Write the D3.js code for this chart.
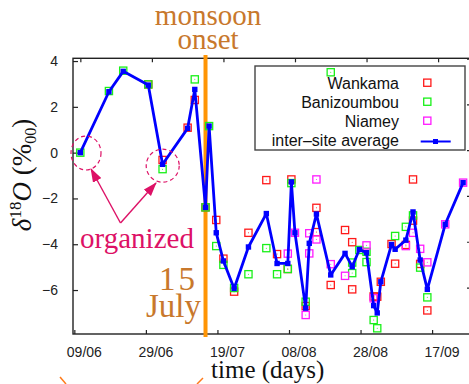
<!DOCTYPE html>
<html>
<head>
<meta charset="utf-8">
<script src="https://cdn.jsdelivr.net/npm/d3@7"></script>
<style>
  body { margin: 0; background: #fff; }
  text { font-family: "Liberation Sans", Arial, sans-serif; }
  .serif { font-family: "Liberation Serif", "Times New Roman", serif; }
</style>
</head>
<body>
<script>
// delta 18O per sampling day (dd/mm, 2006)
const average = [
  ['10/06', 0.00], ['18/06', 2.66], ['22/06', 3.55], ['29/06', 2.95], ['03/07', -0.51],
  ['10/07', 1.06], ['12/07', 2.76], ['15/07', -2.39], ['16/07', 1.16], ['18/07', -3.50],
  ['20/07', -4.73], ['23/07', -5.93], ['27/07', -4.12], ['01/08', -2.66], ['04/08', -4.84],
  ['07/08', -4.84], ['08/08', -1.28], ['09/08', -3.50], ['12/08', -6.79], ['13/08', -3.96],
  ['15/08', -2.68], ['19/08', -5.34], ['23/08', -4.40], ['25/08', -4.98], ['27/08', -4.23],
  ['29/08', -4.37], ['31/08', -6.68], ['01/09', -7.00], ['02/09', -5.64], ['05/09', -4.01],
  ['06/09', -4.22], ['09/09', -3.82], ['11/09', -2.59], ['13/09', -4.69], ['15/09', -5.97],
  ['20/09', -3.13], ['25/09', -1.31]
];

const wankama = [
  ['29/06', 2.98], ['03/07', -0.32], ['10/07', 1.09], ['12/07', 2.30], ['15/07', -2.39],
  ['18/07', -2.94], ['20/07', -4.63], ['23/07', -6.07], ['27/07', -3.50], ['01/08', -1.20],
  ['04/08', -4.43], ['07/08', -5.08], ['08/08', -1.17], ['12/08', -6.70], ['15/08', -2.41],
  ['15/08', -3.47], ['19/08', -5.78], ['23/08', -3.38], ['25/08', -3.91], ['25/08', -5.97],
  ['31/08', -6.28], ['01/09', -6.29], ['02/09', -5.64], ['05/09', -3.99], ['06/09', -4.85],
  ['09/09', -4.03], ['11/09', -1.17], ['11/09', -2.97], ['13/09', -4.86], ['15/09', -6.89]
];

const banizoumbou = [
  ['10/06', 0.00], ['18/06', 2.69], ['22/06', 3.58], ['29/06', 2.98], ['03/07', -0.72],
  ['12/07', 3.20], ['15/07', -2.39], ['16/07', 1.16], ['18/07', -4.08], ['20/07', -4.90],
  ['23/07', -5.91], ['27/07', -5.31], ['01/08', -4.17], ['04/08', -5.31], ['07/08', -5.08],
  ['08/08', -1.33], ['12/08', -6.51], ['19/08', 3.51], ['25/08', -4.80], ['25/08', -5.26],
  ['27/08', -4.25], ['29/08', -4.33], ['29/08', -4.78], ['31/08', -7.31], ['01/09', -7.67],
  ['06/09', -3.64], ['09/09', -3.24], ['11/09', -2.74], ['13/09', -5.02], ['15/09', -6.32]
];

const niamey = [
  ['07/08', -4.41], ['09/08', -3.50], ['12/08', -7.09], ['13/08', -3.52], ['13/08', -4.40],
  ['15/08', -1.17], ['15/08', -3.79], ['19/08', -4.87], ['23/08', -5.38], ['29/08', -4.05],
  ['31/08', -6.36], ['09/09', -4.08], ['11/09', -3.50], ['13/09', -4.20], ['15/09', -4.79],
  ['20/09', -3.13], ['25/09', -1.31]
];

const xTickLabels = ['09/06', '29/06', '19/07', '08/08', '28/08', '17/09'];
const yTicks = [-6, -4, -2, 0, 2, 4];
const onsetDay = '15/07';

const series = [
  { name: 'Wankama', data: wankama, color: '#ff1a1a' },
  { name: 'Banizoumbou', data: banizoumbou, color: '#19f019' },
  { name: 'Niamey', data: niamey, color: '#ff1aff' }
];

const width = 469, height = 384;
const plotLeft = 73, plotRight = 471, plotTop = 58.3, plotBottom = 334;

const parseTick = d3.timeParse('%d/%m/%Y');
const parseSample = d3.timeParse('%d/%m/%Y %H');
const sampleDate = s => parseSample(s + '/2006 16');   // samples taken late in the day

const x = d3.scaleTime()
  .domain([new Date(2006, 5, 8, 15), new Date(2006, 8, 27, 21)])
  .range([plotLeft, plotRight]);

const y = d3.scaleLinear()
  .domain([-7.92, 4.12])
  .range([plotBottom, plotTop]);

const svg = d3.select('body').append('svg')
  .attr('width', width)
  .attr('height', height);

const accent = '#dd1166';
const brown = '#c8782c';

svg.append('defs').append('marker')
  .attr('id', 'head')
  .attr('markerUnits', 'userSpaceOnUse')
  .attr('viewBox', '0 -5 14 10')
  .attr('refX', 13).attr('refY', 0)
  .attr('markerWidth', 14).attr('markerHeight', 10)
  .attr('orient', 'auto')
  .append('path')
  .attr('d', 'M0,-4.8L14,0L0,4.8Z')
  .attr('fill', accent);

// axes
const xAxis = svg.append('g')
  .attr('transform', `translate(0,${plotBottom})`)
  .call(d3.axisBottom(x)
    .tickValues(xTickLabels.map(s => parseTick(s + '/2006')))
    .tickFormat(d3.timeFormat('%d/%m'))
    .tickSizeInner(-4).tickSizeOuter(0));
xAxis.selectAll('text').attr('y', 13).attr('dx', 9.5).style('font-size', '14px').attr('fill', '#222');

// mirrored ticks on top sit a few pixels off in the original
svg.append('g')
  .attr('transform', `translate(0,${plotTop})`)
  .call(d3.axisTop(x.copy().range([plotLeft + 6, plotRight + 6]))
    .tickValues(xTickLabels.map(s => parseTick(s + '/2006')))
    .tickFormat('').tickSizeInner(-4).tickSizeOuter(0));

const yAxis = svg.append('g')
  .attr('transform', `translate(${plotLeft},0)`)
  .call(d3.axisLeft(y).tickValues(yTicks).tickSizeInner(-5).tickSizeOuter(0));
yAxis.selectAll('text').attr('x', -15).style('font-size', '14px').attr('fill', '#222');

svg.append('g')
  .attr('transform', `translate(${plotRight},0)`)
  .call(d3.axisRight(y.copy().range([plotBottom - 2.5, plotTop - 2.5]))
    .tickValues(yTicks).tickFormat('').tickSizeInner(-4).tickSizeOuter(0));

svg.selectAll('.domain').remove();
svg.selectAll('.tick line').attr('stroke', '#222').attr('stroke-width', 1.2);

svg.append('rect')
  .attr('x', plotLeft).attr('y', plotTop)
  .attr('width', plotRight - plotLeft).attr('height', plotBottom - plotTop)
  .attr('fill', 'none').attr('stroke', '#222').attr('stroke-width', 1.4);

// monsoon onset
const onsetX = x(sampleDate(onsetDay));
svg.append('line')
  .attr('x1', onsetX).attr('x2', onsetX)
  .attr('y1', 55).attr('y2', 337)
  .attr('stroke', '#ff9505').attr('stroke-width', 4);

// legend
const legend = svg.append('g');
legend.append('rect')
  .attr('x', 255).attr('y', 66).attr('width', 210).attr('height', 84)
  .attr('fill', 'none').attr('stroke', '#444').attr('stroke-width', 1.4);

const legendRows = series.map(s => ({ name: s.name, color: s.color }))
  .concat([{ name: 'inter\u2013site average', color: '#0000ff', line: true }]);

legendRows.forEach((row, i) => {
  const base = 89 + 19 * i;
  legend.append('text')
    .attr('x', 399).attr('y', base)
    .attr('text-anchor', 'end')
    .style('font-size', '16px')
    .attr('fill', '#111')
    .text(row.name);
  if (row.line) {
    legend.append('line')
      .attr('x1', 420.7).attr('x2', 450.7)
      .attr('y1', base - 4.5).attr('y2', base - 4.5)
      .attr('stroke', row.color).attr('stroke-width', 2);
    legend.append('rect')
      .attr('x', 433).attr('y', base - 7).attr('width', 5).attr('height', 5)
      .attr('fill', row.color);
  } else {
    legend.append('rect')
      .attr('x', 427.3 - 3.6).attr('y', base - 6.3 - 3.6)
      .attr('width', 7.2).attr('height', 7.2)
      .attr('fill', 'none').attr('stroke', row.color).attr('stroke-width', 1.3);
  }
});

// site samples
series.forEach(s => {
  const g = svg.append('g');
  g.selectAll('rect')
    .data(s.data)
    .join('rect')
    .attr('x', d => x(sampleDate(d[0])) - 3.6)
    .attr('y', d => y(d[1]) - 3.6)
    .attr('width', 7.2).attr('height', 7.2)
    .attr('fill', 'none')
    .attr('stroke', s.color)
    .attr('stroke-width', 1.3);
  g.selectAll('circle')
    .data(s.data)
    .join('circle')
    .attr('cx', d => x(sampleDate(d[0])))
    .attr('cy', d => y(d[1]))
    .attr('r', 0.5)
    .attr('fill', s.color);
});

// inter-site average
const line = d3.line()
  .x(d => x(sampleDate(d[0])))
  .y(d => y(d[1]));

svg.append('path')
  .datum(average)
  .attr('d', line)
  .attr('fill', 'none')
  .attr('stroke', '#0000ff')
  .attr('stroke-width', 2.8)
  .attr('stroke-linejoin', 'round');

svg.append('g').selectAll('rect')
  .data(average)
  .join('rect')
  .attr('x', d => x(sampleDate(d[0])) - 2.7)
  .attr('y', d => y(d[1]) - 2.7)
  .attr('width', 5.4).attr('height', 5.4)
  .attr('fill', '#0000ff');

// annotations
const ann = svg.append('g');
[[86, 153, 15, 17], [162.7, 165.7, 16.5, 16.5]].forEach(c => {
  ann.append('ellipse')
    .attr('cx', c[0]).attr('cy', c[1]).attr('rx', c[2]).attr('ry', c[3])
    .attr('fill', 'none').attr('stroke', accent)
    .attr('stroke-width', 1.2).attr('stroke-dasharray', '4,3');
});
[[91, 169], [156, 183]].forEach(t => {
  ann.append('line')
    .attr('x1', 120.5).attr('y1', 223).attr('x2', t[0]).attr('y2', t[1])
    .attr('stroke', accent).attr('stroke-width', 1.4)
    .attr('marker-end', 'url(#head)');
});
ann.append('text').attr('class', 'serif')
  .attr('x', 137).attr('y', 248).attr('text-anchor', 'middle')
  .style('font-size', '29px').attr('fill', accent)
  .text('organized');

ann.append('text').attr('class', 'serif')
  .attr('x', 208).attr('y', 25).attr('text-anchor', 'middle')
  .style('font-size', '29px').attr('fill', brown)
  .text('monsoon');
ann.append('text').attr('class', 'serif')
  .attr('x', 208).attr('y', 49).attr('text-anchor', 'middle')
  .style('font-size', '29px').attr('fill', brown)
  .text('onset');
ann.append('text').attr('class', 'serif')
  .attr('x', 198).attr('y', 290).attr('text-anchor', 'end')
  .style('font-size', '33px').style('letter-spacing', '3px').attr('fill', brown)
  .text('15');
ann.append('text').attr('class', 'serif')
  .attr('x', 201).attr('y', 317).attr('text-anchor', 'end')
  .style('font-size', '33px').attr('fill', brown)
  .text('July');

// stray orange strokes at the bottom edge
[[60, 377, 66, 384], [203, 378, 197, 384]].forEach(s => {
  ann.append('line')
    .attr('x1', s[0]).attr('y1', s[1]).attr('x2', s[2]).attr('y2', s[3])
    .attr('stroke', '#ff7a1a').attr('stroke-width', 1.5);
});

// axis titles
svg.append('text').attr('class', 'serif')
  .attr('x', 267.7).attr('y', 378).attr('text-anchor', 'middle')
  .style('font-size', '25px').attr('fill', '#111')
  .text('time (days)');

const yTitle = svg.append('text').attr('class', 'serif')
  .attr('transform', 'translate(31,175) rotate(-90)')
  .attr('text-anchor', 'middle')
  .style('font-size', '27px').attr('fill', '#111');
yTitle.append('tspan').style('font-style', 'italic').text('\u03b4');
yTitle.append('tspan').attr('dy', -10).style('font-size', '17px').text('18');
yTitle.append('tspan').attr('dy', 10).style('font-style', 'italic').text('O');
yTitle.append('tspan').text(' (%');
yTitle.append('tspan').attr('dy', 5).style('font-size', '16px').text('00');
yTitle.append('tspan').attr('dy', -5).text(')');
</script>
</body>
</html>
